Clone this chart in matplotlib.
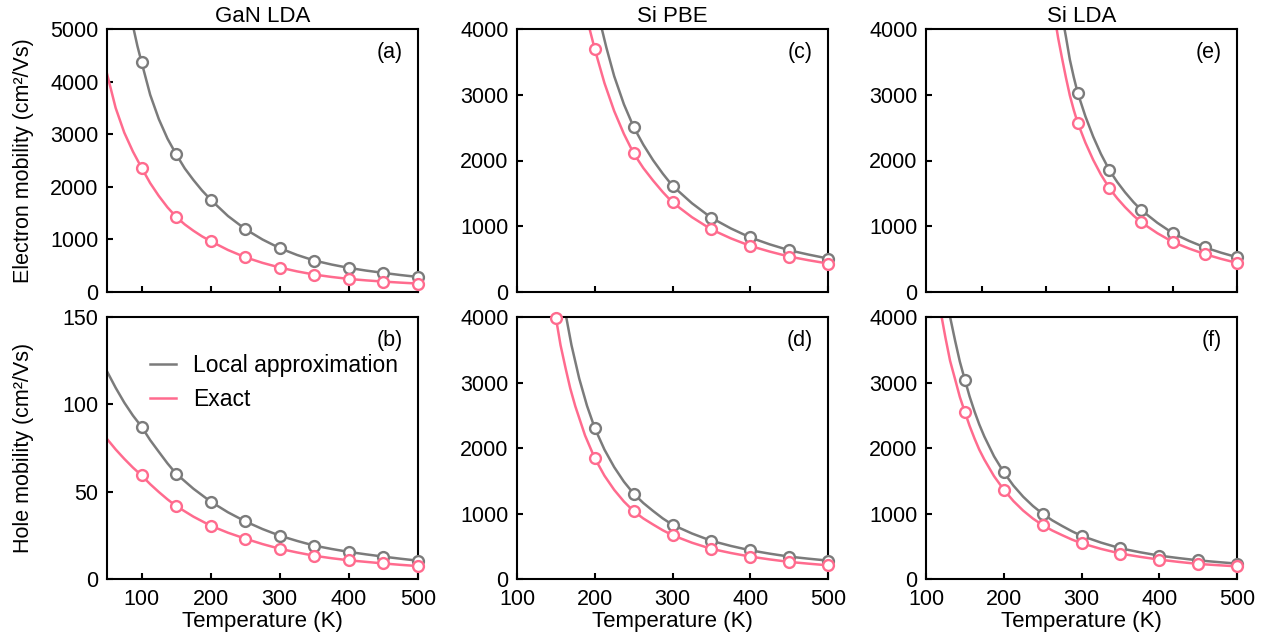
import matplotlib
matplotlib.use("Agg")
import matplotlib.pyplot as plt
from matplotlib.ticker import MultipleLocator

plt.rcParams['font.family'] = ['Liberation Sans', 'DejaVu Sans']

GRAY = '#7b7b7b'
PINK = '#ff6b8e'

# ---- markers (Temperature in K, mobility in cm2/Vs) ----
T50 = [100, 150, 200, 250, 300, 350, 400, 450, 500]

a_loc = [4370, 2620, 1755, 1196, 833, 598, 458, 363, 286]
a_ex = [2362, 1429, 966, 661, 465, 331, 248, 198, 160]

b_loc = [87.2, 60.3, 44.3, 33.0, 24.8, 19.1, 15.5, 12.8, 10.5]
b_ex = [59.3, 41.8, 30.5, 23.1, 17.3, 13.3, 10.7, 8.9, 7.4]

c_T_loc = [250, 300, 350, 400, 450, 500]
c_loc = [2510, 1615, 1128, 829, 635, 509]
c_T_ex = [200, 250, 300, 350, 400, 450, 500]
c_ex = [3694, 2109, 1362, 951, 701, 539, 433]

d_T_loc = [200, 250, 300, 350, 400, 450, 500]
d_loc = [2304, 1303, 828, 583, 438, 342, 281]
d_T_ex = [150, 200, 250, 300, 350, 400, 450, 500]
d_ex = [3990, 1844, 1036, 668, 460, 342, 261, 209]

e_T = [295, 336, 377, 418, 459, 500]
e_loc = [3033, 1850, 1245, 890, 677, 529]
e_ex = [2576, 1576, 1058, 757, 575, 442]

f_T = [150, 200, 250, 300, 350, 400, 450, 500]
f_loc = [3040, 1630, 996, 659, 469, 357, 285, 235]
f_ex = [2549, 1364, 822, 546, 388, 296, 230, 193]

# ---- curves ----
a_line_T_loc = [85, 94, 100, 112.5, 125, 137.5, 150, 162.5, 175, 187.5, 200, 225,
                250, 275, 300, 325, 350, 375, 400, 425, 450, 475, 500]
a_line_loc = [5209, 4677, 4370, 3749, 3286, 2916, 2620, 2350, 2130, 1930, 1755,
              1445, 1196, 998, 833, 704, 598, 522, 458, 407, 363, 322, 286]
a_line_T_ex = [50, 62.5, 75, 87.5, 100, 112.5, 125, 137.5, 150, 162.5, 175, 187.5,
               200, 225, 250, 275, 300, 325, 350, 375, 400, 425, 450, 475, 500]
a_line_ex = [4150, 3500, 3030, 2670, 2362, 2070, 1825, 1610, 1429, 1285, 1165,
             1058, 966, 799, 661, 554, 465, 392, 331, 286, 248, 221, 198, 178, 160]

b_line_T = [50, 62.5, 75, 87.5, 100, 112.5, 125, 137.5, 150, 175, 200, 225, 250,
            275, 300, 325, 350, 375, 400, 425, 450, 475, 500]
b_line_loc = [118.9, 109.5, 101.0, 93.6, 87.2, 79.5, 72.8, 66.2, 60.3, 51.7, 44.3,
              38.2, 33.0, 28.6, 24.8, 21.8, 19.1, 17.2, 15.5, 14.1, 12.8, 11.6, 10.5]
b_line_ex = [80.2, 74.2, 68.8, 63.8, 59.3, 54.3, 49.8, 45.6, 41.8, 35.7, 30.5, 26.5,
             23.1, 20.0, 17.3, 15.2, 13.3, 11.9, 10.7, 9.8, 8.9, 8.1, 7.4]

c_line_T_loc = [205, 215, 225, 237.5, 250, 262.5, 275, 287.5, 300, 325, 350, 375,
                400, 425, 450, 475, 500]
c_line_loc = [4200, 3715, 3283, 2855, 2510, 2240, 2005, 1800, 1615, 1350, 1128, 967,
              829, 725, 635, 569, 509]
c_line_T_ex = [190, 200, 212.5, 225, 237.5, 250, 262.5, 275, 287.5, 300, 325, 350,
               375, 400, 425, 450, 475, 500]
c_line_ex = [4156, 3694, 3177, 2752, 2404, 2109, 1885, 1695, 1520, 1362, 1138, 951,
             816, 701, 615, 539, 483, 433]

d_line_T_loc = [160, 170, 180, 190, 200, 212.5, 225, 237.5, 250, 262.5, 275, 287.5,
                300, 325, 350, 375, 400, 425, 450, 475, 500]
d_line_loc = [4209, 3574, 3062, 2646, 2304, 1975, 1708, 1486, 1303, 1160, 1039, 925,
              828, 695, 583, 505, 438, 387, 342, 310, 281]
d_line_T_ex = [147, 150, 156, 162.5, 168.5, 175, 187.5, 200, 212.5, 225, 237.5, 250,
               262.5, 275, 287.5, 300, 325, 350, 375, 400, 425, 450, 475, 500]
d_line_ex = [4213, 3990, 3570, 3217, 2910, 2637, 2192, 1844, 1577, 1361, 1183, 1036,
             924, 832, 744, 668, 554, 460, 397, 342, 299, 261, 234, 209]

e_line_T_loc = [275, 280, 285, 290, 295, 305, 315, 325, 336, 346, 356, 367, 377,
                397.5, 418, 438.5, 459, 479.5, 500]
e_line_loc = [4204, 3880, 3535, 3270, 3033, 2672, 2364, 2099, 1850, 1672, 1517,
              1365, 1245, 1053, 890, 776, 677, 598, 529]
e_line_T_ex = [265, 270, 275, 280, 285, 290, 295, 305, 315, 325, 336, 346, 356, 367,
               377, 397.5, 418, 438.5, 459, 479.5, 500]
e_line_ex = [4217, 3860, 3553, 3260, 2990, 2770, 2576, 2272, 2010, 1785, 1576, 1424,
             1291, 1161, 1058, 895, 757, 660, 575, 504, 442]

f_line_T_loc = [128, 131, 137.5, 143.5, 150, 156, 162.5, 168.5, 175, 187.5, 200,
                212.5, 225, 237.5, 250, 262.5, 275, 287.5, 300, 325, 350, 375, 400,
                425, 450, 475, 500]
f_line_loc = [4189, 4000, 3635, 3320, 3040, 2790, 2555, 2360, 2176, 1873, 1630, 1425,
              1256, 1115, 996, 895, 810, 730, 659, 556, 469, 409, 357, 319, 285, 259,
              235]
f_line_T_ex = [118, 125, 131, 137.5, 143.5, 150, 156, 162.5, 168.5, 175, 187.5, 200,
               212.5, 225, 237.5, 250, 262.5, 275, 287.5, 300, 325, 350, 375, 400,
               425, 450, 475, 500]
f_line_ex = [4137, 3685, 3330, 3046, 2780, 2549, 2340, 2142, 1975, 1824, 1570, 1364,
             1189, 1044, 923, 822, 740, 670, 603, 546, 460, 388, 339, 296, 261, 230,
             211, 193]

titles = ['GaN LDA', 'Si PBE', 'Si LDA']
letters = [['(a)', '(c)', '(e)'], ['(b)', '(d)', '(f)']]

fig = plt.figure(figsize=(12.73, 6.41), dpi=100)
W, H = 1273, 641
lefts = [107, 517, 926]
width = 311
rows = [(29, 292), (317, 579)]

axes = [[None] * 3 for _ in range(2)]
for r, (top, bot) in enumerate(rows):
    for c, lx in enumerate(lefts):
        axes[r][c] = fig.add_axes([lx / W, 1 - bot / H, width / W, (bot - top) / H])

panels = [
    [(a_line_T_loc, a_line_loc, a_line_T_ex, a_line_ex, T50, a_loc, T50, a_ex),
     (c_line_T_loc, c_line_loc, c_line_T_ex, c_line_ex, c_T_loc, c_loc, c_T_ex, c_ex),
     (e_line_T_loc, e_line_loc, e_line_T_ex, e_line_ex, e_T, e_loc, e_T, e_ex)],
    [(b_line_T, b_line_loc, b_line_T, b_line_ex, T50, b_loc, T50, b_ex),
     (d_line_T_loc, d_line_loc, d_line_T_ex, d_line_ex, d_T_loc, d_loc, d_T_ex, d_ex),
     (f_line_T_loc, f_line_loc, f_line_T_ex, f_line_ex, f_T, f_loc, f_T, f_ex)],
]

lw = 1.8
for r in range(2):
    for c in range(3):
        ax = axes[r][c]
        lTl, ll, lTe, le, mTl, ml, mTe, me = panels[r][c]
        ax.plot(lTl, ll, color=GRAY, lw=lw, label='Local approximation', zorder=2)
        ax.plot(lTe, le, color=PINK, lw=lw, label='Exact', zorder=2)
        ax.plot(mTl, ml, 'o', ms=7.8, mfc='white', mec=GRAY, mew=1.7, clip_on=False, zorder=4)
        ax.plot(mTe, me, 'o', ms=7.8, mfc='white', mec=PINK, mew=1.7, clip_on=False, zorder=5)

        if c == 0:
            ax.set_xlim(50, 500)
        else:
            ax.set_xlim(100, 500)
        if c == 0 and r == 0:
            ax.set_ylim(0, 5000)
            ax.yaxis.set_major_locator(MultipleLocator(1000))
        elif c == 0:
            ax.set_ylim(0, 150)
            ax.yaxis.set_major_locator(MultipleLocator(50))
        else:
            ax.set_ylim(0, 4000)
            ax.yaxis.set_major_locator(MultipleLocator(1000))

        if r == 0 and c == 2:
            ax.set_xticks([172, 254, 336, 418, 500])
        else:
            ax.set_xticks([100, 200, 300, 400, 500])

        ax.tick_params(direction='in', length=4, width=1.5, labelsize=15.5, pad=6,
                       top=False, right=False)
        ax.tick_params(axis='x', pad=7)
        if r == 0:
            ax.tick_params(labelbottom=False)
            ax.set_title(titles[c], fontsize=16, pad=5)
        else:
            ax.set_xlabel('Temperature (K)', fontsize=16, labelpad=1)
        for s in ax.spines.values():
            s.set_linewidth(1.5)
        ax.text(0.95, 0.91, letters[r][c], transform=ax.transAxes, ha='right',
                va='center', fontsize=15.5)

axes[0][0].set_ylabel('Electron mobility (cm²/Vs)', fontsize=15.5)
axes[1][0].set_ylabel('Hole mobility (cm²/Vs)', fontsize=15.5)
axes[0][0].yaxis.set_label_coords(-0.235, 0.5)
axes[1][0].yaxis.set_label_coords(-0.235, 0.5)

axes[1][0].legend(loc='center left', bbox_to_anchor=(0.138, 0.75), frameon=False,
                  fontsize=16.5, handlelength=1.15, handletextpad=0.75,
                  labelspacing=0.45, borderpad=0, borderaxespad=0)

fig.savefig('out.png', dpi=100)
